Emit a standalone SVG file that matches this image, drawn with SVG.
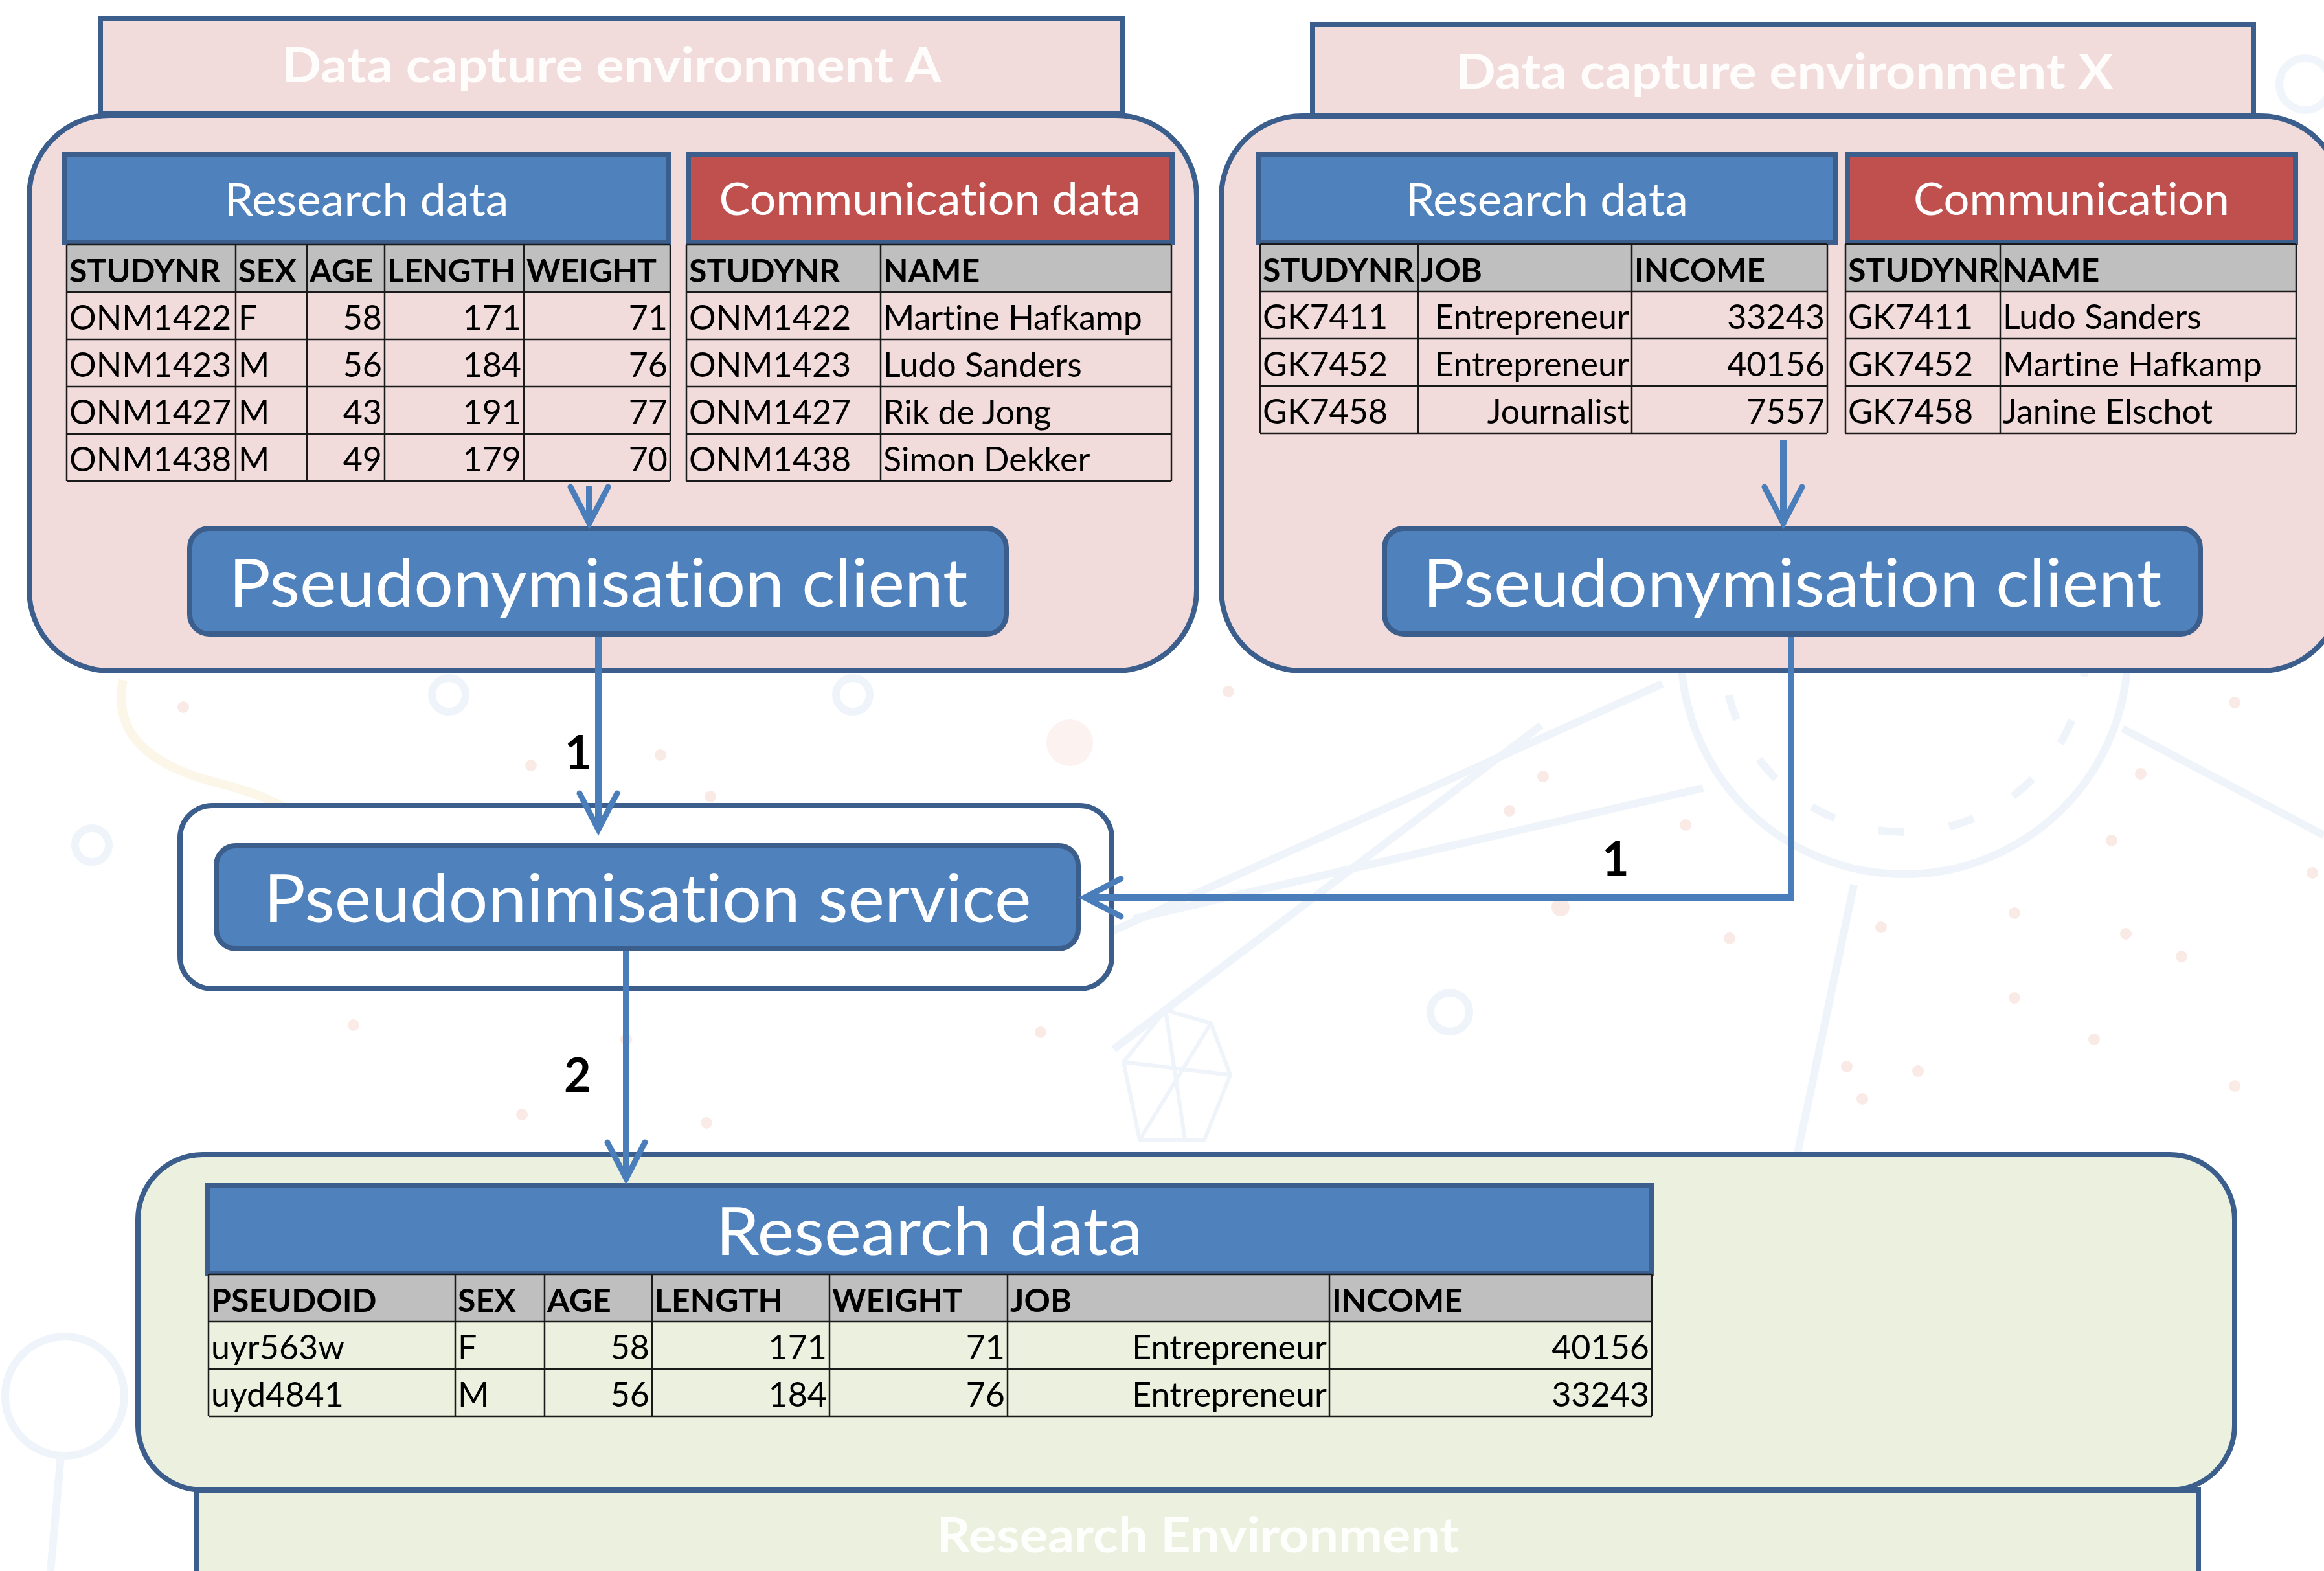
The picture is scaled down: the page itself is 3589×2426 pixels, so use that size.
<svg xmlns="http://www.w3.org/2000/svg" width="3589" height="2426" viewBox="0 0 3589 2426">
  <style>
    text { font-variant-ligatures: none; }
    .env { fill: #F2DCDB; stroke: #3B5E8C; stroke-width: 8; }
    .envG { fill: #EBF1DE; stroke: #3B5E8C; stroke-width: 8; }
    .hdrB { fill: #4F81BD; stroke: #3B5E8C; stroke-width: 8; }
    .hdrR { fill: #C0504D; stroke: #3B5E8C; stroke-width: 8; }
    .proc { fill: #4F81BD; stroke: #3B5E8C; stroke-width: 8; }
    .title { font-family: Lato, "Liberation Sans", sans-serif; font-weight: bold; font-size: 74px; fill: #FFFFFF; fill-opacity: 0.92; text-anchor: middle; }
    .hl { font-family: Lato, "Liberation Sans", sans-serif; font-size: 70px; fill: #FFFFFF; text-anchor: middle; }
    .big { font-family: Lato, "Liberation Sans", sans-serif; font-size: 102px; fill: #FFFFFF; text-anchor: middle; }
    .thf { fill: #BFBFBF; }
    .grid { fill: none; stroke: #1A1A1A; stroke-width: 2.5; }
    .th { font-family: Lato, "Liberation Sans", sans-serif; font-weight: bold; font-size: 50px; fill: #000; }
    .td { font-family: Lato, "Liberation Sans", sans-serif; font-size: 52px; fill: #000; }
    .r { text-anchor: end; }
    .num { font-family: Lato, "Liberation Sans", sans-serif; font-weight: bold; font-size: 72px; fill: #000; text-anchor: middle; }
    .link { fill: none; stroke: #4A7EBB; stroke-width: 10; }
    .bgl { fill: none; stroke: #E4EEF8; stroke-width: 12; }
    .bgd { fill: #F8DDD6; }
  </style>
  <defs>
    <marker id="open" markerUnits="userSpaceOnUse" viewBox="-80 -45 100 90" refX="0" refY="0" markerWidth="100" markerHeight="90" orient="auto">
      <path d="M-56,-29 L0,0 L-56,29" fill="none" stroke="#4A7EBB" stroke-width="9" stroke-linejoin="miter" stroke-linecap="round"/>
    </marker>
  </defs>

  <rect width="3589" height="2426" fill="#FFFFFF"/>

  <!-- faint backdrop illustration -->
  <g id="backdrop" opacity="0.6">
    <circle class="bgl" cx="2941" cy="1005" r="345" stroke-width="16"/>
    <circle class="bgl" cx="2941" cy="1005" r="280" stroke-dasharray="40 70"/>
    <path class="bgl" d="M2863,1366 L2730,2000"/>
    <path class="bgl" d="M3278,1125 L3589,1290"/>
    <path class="bgl" d="M1700,1446 L2567,1056"/>
    <path class="bgl" d="M1750,1419 L2630,1217" stroke-width="8"/>
    <path class="bgl" d="M1720,1620 L2380,1120" stroke-width="8"/>
    <circle class="bgl" cx="142" cy="1305" r="26" stroke-width="10"/>
    <circle class="bgl" cx="1317" cy="1073" r="26" stroke-width="10"/>
    <circle class="bgl" cx="693" cy="1073" r="26" stroke-width="10"/>
    <circle class="bgl" cx="2239" cy="1563" r="30" stroke-width="10"/>
    <circle class="bgl" cx="3560" cy="130" r="40" stroke-width="12"/>
    <circle class="bgl" cx="100" cy="2156" r="92" stroke-width="16"/>
    <path class="bgl" d="M94,2248 L78,2426" stroke-width="14"/>
    <path d="M1735,1640 L1800,1560 L1870,1580 L1900,1660 L1860,1760 L1760,1760 Z M1800,1560 L1830,1760 M1735,1640 L1900,1660 M1870,1580 L1760,1760" fill="none" stroke="#E4EEF8" stroke-width="6"/>
    <path d="M190,1050 C170,1150 260,1190 340,1210 C420,1230 470,1260 495,1290" fill="none" stroke="#FBF1DC" stroke-width="14"/>
    <g class="bgd">
      <circle cx="283" cy="1092" r="9"/><circle cx="820" cy="1182" r="9"/><circle cx="1020" cy="1166" r="9"/>
      <circle cx="1097" cy="1230" r="9"/><circle cx="1366" cy="1269" r="9"/><circle cx="1652" cy="1147" r="36" opacity="0.6"/>
      <circle cx="352" cy="1489" r="9"/><circle cx="546" cy="1583" r="9"/><circle cx="967" cy="1605" r="9"/>
      <circle cx="806" cy="1721" r="9"/><circle cx="1091" cy="1734" r="9"/><circle cx="1607" cy="1594" r="9"/>
      <circle cx="1897" cy="1068" r="9"/><circle cx="2383" cy="1199" r="9"/><circle cx="2331" cy="1252" r="9"/>
      <circle cx="2603" cy="1274" r="9"/><circle cx="2410" cy="1401" r="14"/><circle cx="2671" cy="1449" r="9"/>
      <circle cx="2905" cy="1432" r="9"/><circle cx="3111" cy="1410" r="9"/><circle cx="3283" cy="1442" r="9"/>
      <circle cx="3369" cy="1477" r="9"/><circle cx="3111" cy="1541" r="9"/><circle cx="3234" cy="1605" r="9"/>
      <circle cx="2852" cy="1647" r="9"/><circle cx="2962" cy="1654" r="9"/><circle cx="2876" cy="1697" r="9"/>
      <circle cx="3451" cy="1677" r="9"/><circle cx="3261" cy="1298" r="9"/><circle cx="3306" cy="1195" r="9"/>
      <circle cx="3451" cy="1085" r="9"/><circle cx="3571" cy="1348" r="9"/>
    </g>
  </g>

  <!-- Data capture environment A -->
  <g id="env-a">
    <rect class="env" x="45" y="178" width="1803" height="858" rx="125"/>
    <rect class="env" x="155" y="29" width="1578" height="147"/>
    <text class="title" x="944" y="127" textLength="1019" lengthAdjust="spacingAndGlyphs">Data capture environment A</text>
  </g>

  <g id="research-a">
    <rect class="hdrB" x="99" y="238" width="934" height="137"/>
    <text class="hl" x="566" y="333" textLength="439" lengthAdjust="spacingAndGlyphs">Research data</text>
    <rect class="thf" x="103" y="378" width="932" height="73"/>
    <path class="grid" d="M103,378H1035M103,451H1035M103,524H1035M103,597H1035M103,670H1035M103,743H1035M103,378V743M364,378V743M474,378V743M594,378V743M809,378V743M1035,378V743"/>
    <text class="th" x="107" y="436">STUDYNR</text>
    <text class="th" x="368" y="436">SEX</text>
    <text class="th" x="478" y="436">AGE</text>
    <text class="th" x="598" y="436">LENGTH</text>
    <text class="th" x="813" y="436">WEIGHT</text>
    <text class="td" x="107" y="509">ONM1422</text><text class="td" x="368" y="509">F</text>
    <text class="td r" x="590" y="509">58</text><text class="td r" x="805" y="509">171</text><text class="td r" x="1031" y="509">71</text>
    <text class="td" x="107" y="582">ONM1423</text><text class="td" x="368" y="582">M</text>
    <text class="td r" x="590" y="582">56</text><text class="td r" x="805" y="582">184</text><text class="td r" x="1031" y="582">76</text>
    <text class="td" x="107" y="655">ONM1427</text><text class="td" x="368" y="655">M</text>
    <text class="td r" x="590" y="655">43</text><text class="td r" x="805" y="655">191</text><text class="td r" x="1031" y="655">77</text>
    <text class="td" x="107" y="728">ONM1438</text><text class="td" x="368" y="728">M</text>
    <text class="td r" x="590" y="728">49</text><text class="td r" x="805" y="728">179</text><text class="td r" x="1031" y="728">70</text>
  </g>

  <g id="communication-a">
    <rect class="hdrR" x="1063" y="238" width="747" height="137"/>
    <text class="hl" x="1436" y="332" textLength="651" lengthAdjust="spacingAndGlyphs">Communication data</text>
    <rect class="thf" x="1060" y="378" width="749" height="73"/>
    <path class="grid" d="M1060,378H1809M1060,451H1809M1060,524H1809M1060,597H1809M1060,670H1809M1060,743H1809M1060,378V743M1360,378V743M1809,378V743"/>
    <text class="th" x="1064" y="436">STUDYNR</text>
    <text class="th" x="1364" y="436">NAME</text>
    <text class="td" x="1064" y="509">ONM1422</text><text class="td" x="1364" y="509">Martine Hafkamp</text>
    <text class="td" x="1064" y="582">ONM1423</text><text class="td" x="1364" y="582">Ludo Sanders</text>
    <text class="td" x="1064" y="655">ONM1427</text><text class="td" x="1364" y="655">Rik de Jong</text>
    <text class="td" x="1064" y="728">ONM1438</text><text class="td" x="1364" y="728">Simon Dekker</text>
  </g>

  <g id="client-a">
    <rect class="proc" x="293" y="816" width="1261" height="163" rx="30"/>
    <text class="big" x="924" y="937" textLength="1141" lengthAdjust="spacingAndGlyphs">Pseudonymisation client</text>
  </g>

  <!-- Data capture environment X -->
  <g id="env-x">
    <rect class="env" x="1886" y="179" width="1730" height="857" rx="125"/>
    <rect class="env" x="2027" y="38" width="1453" height="141"/>
    <text class="title" x="2756" y="137" textLength="1015" lengthAdjust="spacingAndGlyphs">Data capture environment X</text>
  </g>

  <g id="research-x">
    <rect class="hdrB" x="1943" y="239" width="892" height="136"/>
    <text class="hl" x="2389" y="333" textLength="436" lengthAdjust="spacingAndGlyphs">Research data</text>
    <rect class="thf" x="1946" y="377" width="876" height="73"/>
    <path class="grid" d="M1946,377H2822M1946,450H2822M1946,523H2822M1946,596H2822M1946,669H2822M1946,377V669M2190,377V669M2520,377V669M2822,377V669"/>
    <text class="th" x="1950" y="435">STUDYNR</text>
    <text class="th" x="2194" y="435">JOB</text>
    <text class="th" x="2524" y="435">INCOME</text>
    <text class="td" x="1950" y="508">GK7411</text><text class="td r" x="2516" y="508">Entrepreneur</text><text class="td r" x="2818" y="508">33243</text>
    <text class="td" x="1950" y="581">GK7452</text><text class="td r" x="2516" y="581">Entrepreneur</text><text class="td r" x="2818" y="581">40156</text>
    <text class="td" x="1950" y="654">GK7458</text><text class="td r" x="2516" y="654">Journalist</text><text class="td r" x="2818" y="654">7557</text>
  </g>

  <g id="communication-x">
    <rect class="hdrR" x="2853" y="239" width="692" height="136"/>
    <text class="hl" x="3199" y="332" textLength="488" lengthAdjust="spacingAndGlyphs">Communication</text>
    <rect class="thf" x="2850" y="377" width="696" height="73"/>
    <path class="grid" d="M2850,377H3546M2850,450H3546M2850,523H3546M2850,596H3546M2850,669H3546M2850,377V669M3089,377V669M3546,377V669"/>
    <text class="th" x="2854" y="435">STUDYNR</text>
    <text class="th" x="3093" y="435">NAME</text>
    <text class="td" x="2854" y="508">GK7411</text><text class="td" x="3093" y="508">Ludo Sanders</text>
    <text class="td" x="2854" y="581">GK7452</text><text class="td" x="3093" y="581">Martine Hafkamp</text>
    <text class="td" x="2854" y="654">GK7458</text><text class="td" x="3093" y="654">Janine Elschot</text>
  </g>

  <g id="client-x">
    <rect class="proc" x="2138" y="816" width="1260" height="163" rx="30"/>
    <text class="big" x="2768" y="937" textLength="1141" lengthAdjust="spacingAndGlyphs">Pseudonymisation client</text>
  </g>

  <!-- Pseudonimisation service -->
  <g id="service">
    <rect x="278" y="1244" width="1439" height="283" rx="50" fill="#FFFFFF" stroke="#3B5E8C" stroke-width="8"/>
    <rect class="proc" x="334" y="1306" width="1331" height="159" rx="30"/>
    <text class="big" x="1000" y="1424" font-size="98" textLength="1185" lengthAdjust="spacingAndGlyphs">Pseudonimisation service</text>
  </g>

  <!-- Research environment -->
  <g id="research-env">
    <rect class="envG" x="304" y="2301" width="3091" height="200"/>
    <rect class="envG" x="213" y="1783" width="3238" height="518" rx="100"/>
    <text class="title" x="1850" y="2397" textLength="807" lengthAdjust="spacingAndGlyphs">Research Environment</text>
  </g>

  <g id="research-merged">
    <rect class="hdrB" x="321" y="1831" width="2229" height="135"/>
    <text class="big" x="1435" y="1938" font-size="103" textLength="659" lengthAdjust="spacingAndGlyphs">Research data</text>
    <rect class="thf" x="322" y="1968" width="2229" height="73"/>
    <path class="grid" d="M322,1968H2551M322,2041H2551M322,2114H2551M322,2187H2551M322,1968V2187M703,1968V2187M841,1968V2187M1007,1968V2187M1281,1968V2187M1556,1968V2187M2053,1968V2187M2551,1968V2187"/>
    <text class="th" x="326" y="2026">PSEUDOID</text>
    <text class="th" x="707" y="2026">SEX</text>
    <text class="th" x="845" y="2026">AGE</text>
    <text class="th" x="1011" y="2026">LENGTH</text>
    <text class="th" x="1285" y="2026">WEIGHT</text>
    <text class="th" x="1560" y="2026">JOB</text>
    <text class="th" x="2057" y="2026">INCOME</text>
    <text class="td" x="326" y="2099">uyr563w</text><text class="td" x="707" y="2099">F</text>
    <text class="td r" x="1003" y="2099">58</text><text class="td r" x="1277" y="2099">171</text><text class="td r" x="1552" y="2099">71</text>
    <text class="td r" x="2049" y="2099">Entrepreneur</text><text class="td r" x="2547" y="2099">40156</text>
    <text class="td" x="326" y="2172">uyd4841</text><text class="td" x="707" y="2172">M</text>
    <text class="td r" x="1003" y="2172">56</text><text class="td r" x="1277" y="2172">184</text><text class="td r" x="1552" y="2172">76</text>
    <text class="td r" x="2049" y="2172">Entrepreneur</text><text class="td r" x="2547" y="2172">33243</text>
  </g>

  <!-- connectors -->
  <g id="connectors">
    <path class="link" d="M910,750 V808" marker-end="url(#open)"/>
    <path class="link" d="M2754,679 V808" marker-end="url(#open)"/>
    <path class="link" d="M924,983 V1281" marker-end="url(#open)"/>
    <path class="link" d="M2766,983 V1386 H1675" marker-end="url(#open)"/>
    <path class="link" d="M967,1469 V1820" marker-end="url(#open)"/>
    <text class="num" x="893" y="1188">1</text>
    <text class="num" x="2495" y="1352">1</text>
    <text class="num" x="892" y="1686">2</text>
  </g>
</svg>
